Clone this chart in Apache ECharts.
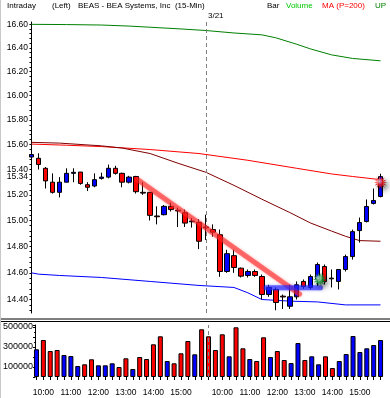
<!DOCTYPE html>
<html><head><meta charset="utf-8">
<script src="https://cdn.jsdelivr.net/npm/echarts@6/dist/echarts.min.js"></script>
<style>html,body{margin:0;padding:0;background:#fff}#c{width:390px;height:398px}</style>
</head><body><div id="c"></div>
<script>
// ---- categories (15-min bars, two sessions) ----
const day1Times = ['9:45','10:00','10:15','10:30','10:45','11:00','11:15','11:30','11:45','12:00','12:15','12:30','12:45','13:00','13:15','13:30','13:45','14:00','14:15','14:30','14:45','15:00','15:15','15:30','15:45','16:00'];
const day2Times = ['9:45','10:00','10:15','10:30','10:45','11:00','11:15','11:30','11:45','12:00','12:15','12:30','12:45','13:00','13:15','13:30','13:45','14:00','14:15','14:30','14:45','15:00','15:15','15:30','15:45'];
const dayBreakIndex = 25;
const dayBreakLabel = '3/21';

// ---- OHLC ----
const opens  = [15.50,15.49,15.41,15.30,15.22,15.30,15.37,15.38,15.28,15.27,15.33,15.34,15.41,15.37,15.30,15.345,15.22,15.22,15.035,15.045,15.11,15.08,15.06,14.99,14.985,14.95,
                14.93,14.89,14.61,14.73,14.635,14.58,14.61,14.572,14.437,14.475,14.425,14.35,14.42,14.535,14.49,14.55,14.648,14.56,14.535,14.625,14.723,14.922,14.992,15.133,15.187];
const closes = [15.52,15.44,15.31,15.22,15.30,15.37,15.378,15.29,15.26,15.32,15.34,15.41,15.37,15.30,15.34,15.225,15.214,15.04,15.029,15.11,15.085,15.074,14.98,14.996,14.84,14.944,
                14.91,14.61,14.745,14.64,14.575,14.61,14.58,14.437,14.49,14.378,14.419,14.42,14.51,14.497,14.572,14.663,14.535,14.555,14.625,14.723,14.914,14.984,15.109,15.156,15.344];
const lows   = [15.45,15.40,15.25,15.21,15.18,15.30,15.30,15.28,15.23,15.26,15.32,15.33,15.36,15.26,15.29,15.21,15.20,15.00,14.97,15.04,15.07,14.95,14.95,14.945,14.78,14.85,
                14.875,14.57,14.60,14.60,14.565,14.565,14.57,14.40,14.42,14.32,14.33,14.33,14.40,14.48,14.475,14.50,14.512,14.49,14.475,14.61,14.70,14.83,14.985,15.125,15.18];
const highs  = [15.53,15.53,15.42,15.37,15.34,15.41,15.41,15.38,15.30,15.37,15.375,15.44,15.43,15.375,15.35,15.35,15.30,15.22,15.11,15.12,15.14,15.10,15.085,15.02,15.01,15.045,
                14.97,14.93,14.775,14.775,14.64,14.625,14.625,14.587,14.51,14.49,14.437,14.51,14.535,14.55,14.587,14.678,14.663,14.625,14.625,14.738,14.93,15.023,15.164,15.25,15.367];
const volumes = [277000,370000,260000,270000,220000,210000,110000,127000,177000,117000,117000,137000,100000,187000,80000,200000,180000,327000,407000,160000,137000,237000,360000,227000,477000,407000,
                 270000,427000,207000,497000,287000,180000,160000,397000,200000,260000,170000,140000,340000,170000,207000,127000,207000,90000,160000,230000,410000,250000,287000,320000,370000];

// ---- indicator lines: [bar index, price] read at points ----
const upperBand = [[0,16.60],[5,16.598],[10,16.594],[14,16.585],[17,16.575],[21,16.562],[25,16.547],[29,16.526],[33,16.51],[35,16.485],[38,16.43],[40,16.39],[43,16.34],[46,16.31],[50,16.29]];
const ma200     = [[0,15.604],[5,15.595],[10,15.584],[17,15.56],[24,15.528],[31,15.474],[38,15.41],[43,15.365],[46,15.345],[50,15.32]];
const maDark    = [[0,15.618],[4,15.612],[10,15.59],[13,15.572],[17,15.528],[21,15.45],[25,15.378],[29,15.275],[33,15.166],[37,15.062],[40,14.98],[43,14.918],[45,14.878],[47,14.845],[50,14.84]];
const lowerBand = [[0,14.60],[1,14.59],[4,14.58],[10,14.565],[17,14.535],[24,14.505],[29,14.49],[31,14.45],[33,14.40],[37,14.388],[41,14.382],[45,14.36],[50,14.36]];

// ---- annotations ----
const redTrend  = [[15.2,15.32],[38.4,14.44]];
const blueLevel = [[33.6,14.487],[41.4,14.487]];
const greenStar = [[41.3,14.55]];
const redStar   = [[50.0,15.297]];

// ---- axis ticks ----
const priceLabels = [14.40,14.60,14.80,15.00,15.20,15.34,15.40,15.60,15.80,16.00,16.20,16.40,16.60];
const volumeLabels = [100000,300000,500000];

const categories = day1Times.map(t => 'A ' + t).concat(day2Times.map(t => 'B ' + t));
const candleData = opens.map((o, i) => [o, closes[i], lows[i], highs[i]]);
const volData = volumes.map((v, i) => ({value: v, itemStyle: {color: closes[i] >= opens[i] ? '#0000ff' : '#ff0000'}}));
const priceTicks = [];
for (let k = 0; k <= 57; k++) priceTicks.push(+(14.32 + k * 0.04).toFixed(2));

function starPath(n) {
  let d = '';
  for (let k = 0; k < 2 * n; k++) {
    const r = k % 2 === 0 ? 10 : 5.5;
    const a = Math.PI * k / n;
    d += (k === 0 ? 'M' : 'L') + (10 + r * Math.cos(a)).toFixed(2) + ' ' + (10 + r * Math.sin(a)).toFixed(2);
  }
  return 'path://' + d + 'Z';
}
const starSym = starPath(14);

const font = '"Liberation Sans", Arial, sans-serif';
const chart = echarts.init(document.getElementById('c'));
const hdr = (text, x, color) => ({type: 'text', x: x, y: 6, style: {text: text, fill: color, font: '8px ' + font, verticalAlign: 'middle'}});

chart.setOption({
  animation: false,
  backgroundColor: '#ffffff',
  grid: [
    {left: 28, top: 22, width: 356, height: 291},
    {left: 28, top: 325, width: 356, height: 52}
  ],
  xAxis: [
    {type: 'category', gridIndex: 0, data: categories, boundaryGap: true, show: false},
    {type: 'category', gridIndex: 1, data: categories, boundaryGap: true,
     axisLine: {show: false},
     axisTick: {show: true, alignWithLabel: true, interval: 0, length: 3, lineStyle: {color: '#000'}},
     axisLabel: {
       interval: (idx, val) => { const t = val.split(' ')[1]; const h = parseInt(t); return t.endsWith(':00') && h >= 10 && h <= 15; },
       formatter: v => v.split(' ')[1], color: '#000', fontSize: 8.5, fontFamily: font, margin: 11
     }},
    {type: 'value', gridIndex: 0, min: -0.5, max: 50.5, show: false}
  ],
  yAxis: [
    {type: 'log', logBase: 10, gridIndex: 0, min: 14.30, max: 16.62, offset: -2,
     axisLine: {show: true, lineStyle: {color: '#000'}},
     axisTick: {show: true, length: 2, customValues: priceTicks, lineStyle: {color: '#000'}},
     axisLabel: {customValues: priceLabels, formatter: v => v.toFixed(2), color: '#000', fontSize: 8.5, fontFamily: font, margin: 2},
     splitLine: {show: false}},
    {type: 'value', gridIndex: 1, min: 0, max: 520000, interval: 100000, offset: -2,
     axisLine: {show: true, lineStyle: {color: '#000'}},
     axisTick: {show: true, length: 2, lineStyle: {color: '#000'}},
     minorTick: {show: true, splitNumber: 2, length: 1, lineStyle: {color: '#000'}},
     axisLabel: {customValues: volumeLabels, formatter: v => String(v), color: '#000', fontSize: 9, fontFamily: font, margin: 2},
     splitLine: {show: false}}
  ],
  series: [
    {type: 'line', xAxisIndex: 2, yAxisIndex: 0, data: upperBand, symbol: 'none', lineStyle: {color: '#008000', width: 1}, z: 2, silent: true},
    {type: 'line', xAxisIndex: 2, yAxisIndex: 0, data: ma200, symbol: 'none', lineStyle: {color: '#ff0000', width: 1}, z: 2, silent: true},
    {type: 'line', xAxisIndex: 2, yAxisIndex: 0, data: maDark, symbol: 'none', lineStyle: {color: '#800000', width: 1}, z: 2, silent: true},
    {type: 'line', xAxisIndex: 2, yAxisIndex: 0, data: lowerBand, symbol: 'none', lineStyle: {color: '#0000ff', width: 1}, z: 2, silent: true},
    {type: 'candlestick', xAxisIndex: 0, yAxisIndex: 0, data: candleData, barWidth: 5, z: 3,
     itemStyle: {color: '#0000ff', color0: '#ff0000', borderColor: '#000', borderColor0: '#000', borderWidth: 1},
     markLine: {silent: true, symbol: 'none', label: {show: false}, lineStyle: {color: '#808080', type: [4, 3], width: 1}, data: [{xAxis: dayBreakIndex}]}},
    {type: 'line', xAxisIndex: 2, yAxisIndex: 0, data: redTrend, symbol: 'none', z: 5,
     lineStyle: {color: 'rgba(255,40,40,0.6)', width: 5, cap: 'round', shadowBlur: 3, shadowColor: 'rgba(255,0,0,0.5)'}},
    {type: 'line', xAxisIndex: 2, yAxisIndex: 0, data: blueLevel, symbol: 'none', z: 5,
     lineStyle: {color: 'rgba(40,40,255,0.65)', width: 5, cap: 'round', shadowBlur: 3, shadowColor: 'rgba(0,0,255,0.5)'}},
    {type: 'scatter', xAxisIndex: 2, yAxisIndex: 0, data: greenStar, symbol: starSym, symbolSize: 14, z: 6,
     itemStyle: {color: {type: 'radial', x: 0.4, y: 0.4, r: 0.6, colorStops: [{offset: 0, color: '#e0ffe0'}, {offset: 0.45, color: '#20a040'}, {offset: 1, color: '#004818'}]},
       shadowBlur: 5, shadowColor: 'rgba(0,0,0,0.55)', shadowOffsetX: 3, shadowOffsetY: 3}},
    {type: 'scatter', xAxisIndex: 2, yAxisIndex: 0, data: redStar, symbol: starSym, symbolSize: 13, z: 6,
     itemStyle: {color: {type: 'radial', x: 0.4, y: 0.4, r: 0.6, colorStops: [{offset: 0, color: '#ffe0e0'}, {offset: 0.45, color: '#ff2020'}, {offset: 1, color: '#800000'}]},
       shadowBlur: 5, shadowColor: 'rgba(0,0,0,0.55)', shadowOffsetX: 3, shadowOffsetY: 3}},
    {type: 'bar', xAxisIndex: 1, yAxisIndex: 1, data: volData, barWidth: 5,
     itemStyle: {borderColor: '#000', borderWidth: 1},
     markLine: {silent: true, symbol: 'none', label: {show: false}, lineStyle: {color: '#808080', type: [4, 3], width: 1}, data: [{xAxis: dayBreakIndex}]}}
  ],
  graphic: [
    hdr('Intraday', 7, '#000'),
    hdr('(Left)', 52, '#000'),
    hdr('BEAS - BEA Systems, Inc  (15-Min)', 78, '#000'),
    hdr('Bar', 267, '#000'),
    hdr('Volume', 286, '#00c800'),
    hdr('MA (P=200)', 322, '#ff0000'),
    hdr('UP', 375, '#008000'),
    {type: 'text', x: 208, y: 16, style: {text: dayBreakLabel, fill: '#000', font: '8px ' + font, verticalAlign: 'middle'}},
    {type: 'line', shape: {x1: 0, y1: 319, x2: 390, y2: 319}, style: {stroke: '#000', lineWidth: 1}},
    {type: 'line', shape: {x1: 0, y1: 321.5, x2: 390, y2: 321.5}, style: {stroke: '#000', lineWidth: 1}},
    {type: 'line', shape: {x1: 0.5, y1: 0, x2: 0.5, y2: 398}, style: {stroke: '#c8c8c8', lineWidth: 1}}
  ]
});
</script></body></html>
